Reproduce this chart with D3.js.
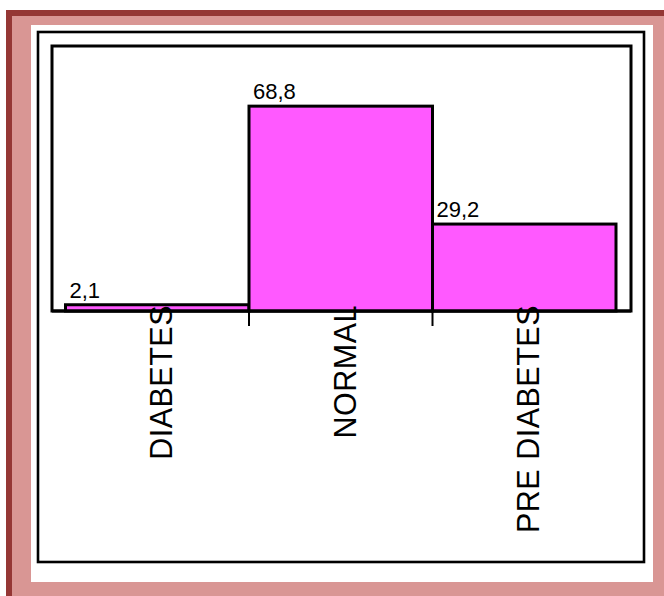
<!DOCTYPE html>
<html lang="en">
    <head>
        <meta charset="utf-8">
        <title>Diabetes status</title>
        <script src="https://d3js.org/d3.v7.min.js"></script>
        <style type="text/css">
            body { margin: 0; background: #ffffff; }
            text { font-family: "Liberation Sans", Arial, sans-serif; fill: #000; }
        </style>
    </head>
    <body>
        <script>
            // data
            var categories = ["DIABETES", "NORMAL", "PRE DIABETES"];
            var values = [2.1, 68.8, 29.2];
            var yMax = 89;

            // configuration code
            var outerWidth = 664;
            var outerHeight = 596;

            var plot = { left: 52, top: 46, right: 631, bottom: 311 };
            var barRange = [65.5, 616];

            var darkRed = "#953735";
            var pink = "#d99694";
            var barColor = "#ff59ff";

            var svg = d3.select("body")
                        .append("svg")
                        .attr("width", outerWidth)
                        .attr("height", outerHeight);

            // frame
            svg.append("rect")
                .attr("x", 6).attr("y", 10)
                .attr("width", outerWidth - 6).attr("height", outerHeight - 10)
                .attr("fill", darkRed);
            svg.append("rect")
                .attr("x", 12).attr("y", 16)
                .attr("width", outerWidth - 12).attr("height", outerHeight - 16)
                .attr("fill", pink);
            svg.append("rect")
                .attr("x", 31).attr("y", 25)
                .attr("width", 653 - 31).attr("height", 582 - 25)
                .attr("fill", "#fff");

            // chart area border
            svg.append("rect")
                .attr("x", 38).attr("y", 32)
                .attr("width", 644 - 38).attr("height", 562 - 32)
                .attr("fill", "none")
                .attr("stroke", "#000")
                .attr("stroke-width", 2.6);

            var xScale = d3.scaleBand().domain(categories).range(barRange).padding(0);
            var yScale = d3.scaleLinear().domain([0, yMax]).range([plot.bottom, plot.top]);

            // plot area border
            svg.append("rect")
                .attr("x", plot.left).attr("y", plot.top)
                .attr("width", plot.right - plot.left).attr("height", plot.bottom - plot.top)
                .attr("fill", "none")
                .attr("stroke", "#000")
                .attr("stroke-width", 3);

            var g = svg.append("g");

            g.selectAll("rect.bar").data(values).enter().append("rect")
                .attr("class", "bar")
                .attr("x", function (d, i) { return xScale(categories[i]); })
                .attr("y", function (d) { return yScale(d); })
                .attr("width", xScale.bandwidth())
                .attr("height", function (d) { return yScale(0) - yScale(d); })
                .attr("fill", barColor)
                .attr("stroke", "#000")
                .attr("stroke-width", 3);

            // value labels
            g.selectAll("text.value").data(values).enter().append("text")
                .attr("class", "value")
                .attr("x", function (d, i) { return xScale(categories[i]) + 4; })
                .attr("y", function (d) { return yScale(d) - 7; })
                .style("font-size", "22px")
                .text(function (d) { return String(d).replace(".", ","); });

            // axis line and ticks between categories
            g.append("line")
                .attr("x1", plot.left).attr("x2", plot.right)
                .attr("y1", plot.bottom).attr("y2", plot.bottom)
                .attr("stroke", "#000").attr("stroke-width", 3);

            g.selectAll("line.tick").data(categories.slice(1)).enter().append("line")
                .attr("class", "tick")
                .attr("x1", function (d) { return xScale(d); })
                .attr("x2", function (d) { return xScale(d); })
                .attr("y1", plot.bottom).attr("y2", plot.bottom + 15)
                .attr("stroke", "#000").attr("stroke-width", 2);

            // category labels, rotated
            g.selectAll("text.cat").data(categories).enter().append("text")
                .attr("class", "cat")
                .attr("transform", function (d) {
                    return "translate(" + (xScale(d) + xScale.bandwidth() / 2 + 15) + "," + 305 + ") rotate(-90)";
                })
                .attr("text-anchor", "end")
                .style("font-size", "30.5px")
                .style("letter-spacing", "0.5px")
                .text(function (d) { return d; });
        </script>
    </body>
</html>
